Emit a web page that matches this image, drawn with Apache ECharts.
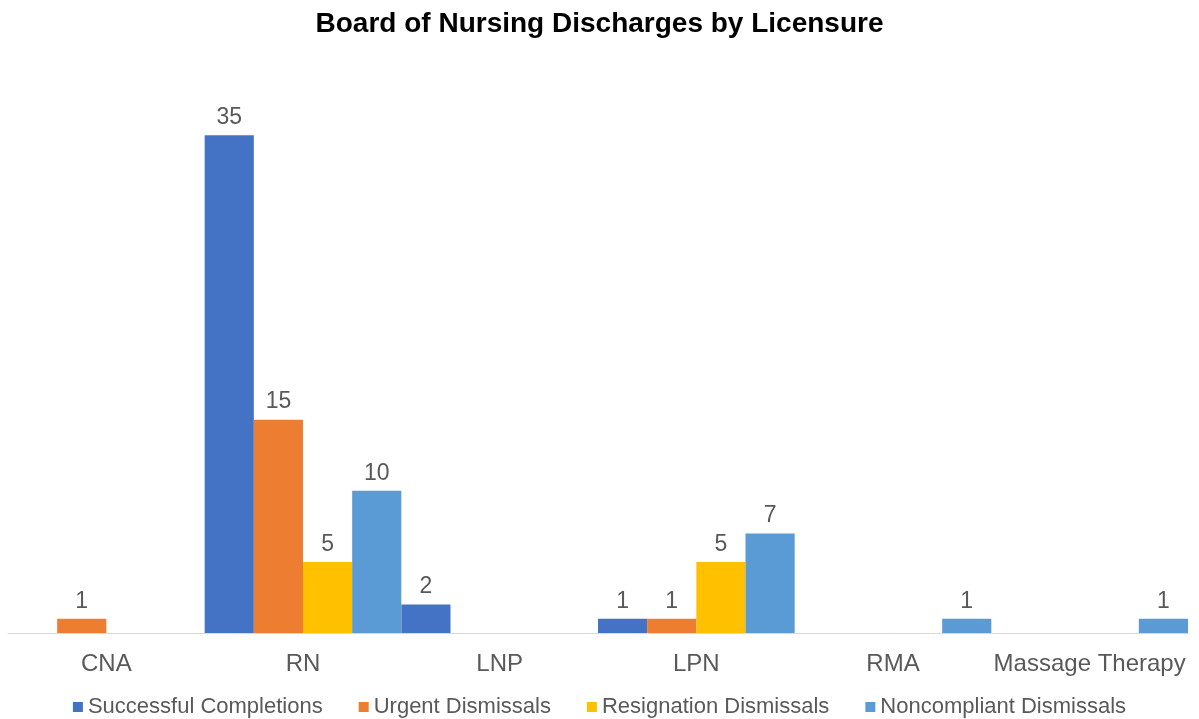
<!DOCTYPE html>
<html>
<head>
<meta charset="utf-8">
<script src="https://cdn.jsdelivr.net/npm/echarts@6/dist/echarts.min.js"></script>
<style>
  html, body { margin: 0; padding: 0; background: #fff; }
  #chart { width: 1199px; height: 719px; }
</style>
</head>
<body>
<div id="chart"></div>
<script>
// licensure categories
const categories = ['CNA', 'RN', 'LNP', 'LPN', 'RMA', 'Massage Therapy'];

// discharge counts per series (0 = no bar)
const successful = [0, 35, 2, 1, 0, 0];
const urgent = [1, 15, 0, 1, 0, 0];
const resignation = [0, 5, 0, 5, 0, 0];
const noncompliant = [0, 10, 0, 7, 1, 1];

const seriesNames = ['Successful Completions', 'Urgent Dismissals', 'Resignation Dismissals', 'Noncompliant Dismissals'];
const colors = ['#4472C4', '#ED7D31', '#FFC000', '#5B9BD5'];

const font = 'Liberation Sans, Arial, sans-serif';

function makeSeries(name, data, color) {
    return {
        name: name,
        type: 'bar',
        data: data,
        barGap: '0%',
        barCategoryGap: '0%',
        itemStyle: { color: color },
        label: {
            show: true,
            position: 'top',
            distance: 6,
            color: '#595959',
            fontSize: 23,
            fontFamily: font,
            formatter: p => (p.value ? p.value : '')
        }
    }
}

let chartDom = document.getElementById('chart');
let myChart = echarts.init(chartDom);

let option = {
    animation: false,
    color: colors,
    title: {
        text: 'Board of Nursing Discharges by Licensure',
        left: 'center',
        top: 5,
        textStyle: { fontFamily: font, fontSize: 28, fontWeight: 'bold', color: '#000' }
    },
    legend: {
        top: 691,
        left: 'center',
        itemWidth: 10,
        itemHeight: 10,
        itemGap: 36,
        icon: 'rect',
        textStyle: { fontFamily: font, fontSize: 22, color: '#595959' },
        data: seriesNames
    },
    grid: { left: 8, right: 11, top: 64, bottom: 86, containLabel: false },
    xAxis: {
        type: 'category',
        data: categories,
        axisTick: { show: false },
        axisLine: { lineStyle: { color: '#D9D9D9', width: 1 } },
        axisLabel: { color: '#595959', fontSize: 24, fontFamily: font, margin: 19, interval: 0 }
    },
    yAxis: {
        type: 'value',
        min: 0,
        max: 40,
        show: false,
        splitLine: { show: false }
    },
    series: [
        makeSeries(seriesNames[0], successful, colors[0]),
        makeSeries(seriesNames[1], urgent, colors[1]),
        makeSeries(seriesNames[2], resignation, colors[2]),
        makeSeries(seriesNames[3], noncompliant, colors[3])
    ]
};

option && myChart.setOption(option);
</script>
</body>
</html>
